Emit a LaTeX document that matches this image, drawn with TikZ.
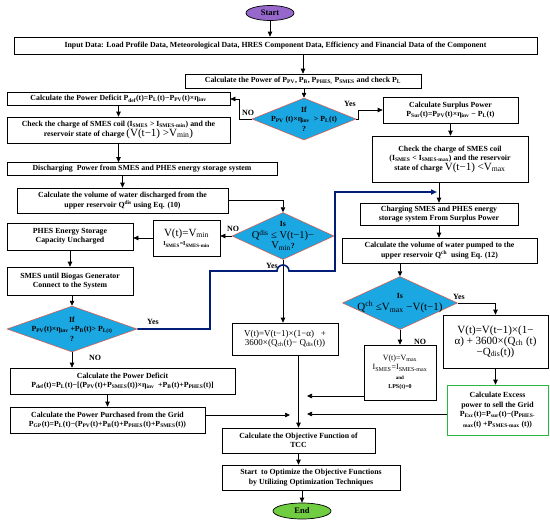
\documentclass[tikz,border=0pt]{standalone}
\usepackage{fontspec}
\setmainfont{Liberation Serif}
\usetikzlibrary{shapes.geometric,arrows.meta}
\definecolor{deccyan}{RGB}{27,167,226}
\definecolor{decred}{RGB}{232,84,62}
\definecolor{startpurple}{RGB}{150,104,204}
\definecolor{endgreen}{RGB}{112,204,64}
\definecolor{excgreen}{RGB}{40,184,64}
\definecolor{pathblue}{RGB}{0,30,120}
\newcommand{\bigtxt}{\fontsize{11}{12}\selectfont\mdseries}
\begin{document}
\begin{tikzpicture}[x=1pt,y=1pt,
    box/.style={draw,line width=0.7pt,align=center,inner sep=1pt,fill=white},
    dec/.style={diamond,draw=decred,line width=0.5pt,fill=deccyan,inner sep=0pt},
    term/.style={ellipse,draw,line width=0.7pt,inner sep=0pt,font=\fontsize{8.5}{10}\selectfont\bfseries},
    arr/.style={-{Triangle[length=5pt,width=4.5pt]},line width=0.7pt},
    bluepath/.style={draw=pathblue,line width=1.6pt,-{Triangle[length=6pt,width=5pt]}},
    yn/.style={inner sep=1pt,font=\fontsize{8}{9}\selectfont\bfseries}]
    \tikzstyle{every node}+=[font=\fontsize{7.8}{9.5}\selectfont\bfseries]
    \useasboundingbox (0,0) rectangle (550,-523);
    % main column
    \node[term,fill=startpurple,minimum width=48,minimum height=15] (start) at (270,-13) {Start};
    \node[box,minimum width=523,minimum height=17] (input) at (275.5,-45.5) {Input Data: Load Profile Data, Meteorological Data, HRES Component Data, Efficiency and Financial Data of the Component};
    \node[box,minimum width=236,minimum height=14] (calcpow) at (303,-81) {Calculate the Power of P\textsubscript{PV}, P\textsubscript{B}, P\textsubscript{PHES,} P\textsubscript{SMES} and check P\textsubscript{L}};
    \node[dec,minimum width=104,minimum height=42,label={[align=center]center:{If\\P\textsubscript{PV} (t)×η\textsubscript{inv} \ > P\textsubscript{L}(t)\\?}}] (dia1) at (304,-119) {};
    % left branch
    \node[box,minimum width=223,minimum height=13] (deficit) at (118.5,-99) {Calculate the Power Deficit P\textsubscript{def}(t)=P\textsubscript{L}(t)−P\textsubscript{PV}(t)×η\textsubscript{inv}};
    \node[box,minimum width=223,minimum height=26] (check1) at (118.5,-130) {Check the charge of SMES coil (I\textsubscript{SMES} > I\textsubscript{SMES-min}) and the\\reservoir state of charge {\bigtxt(V(t−1) >V\textsubscript{min})}};
    \node[box,minimum width=270,minimum height=13] (discharge) at (142,-169) {Discharging \ Power from SMES and PHES energy storage system};
    \node[box,minimum width=211,minimum height=25] (volume) at (122.5,-200.5) {Calculate the volume of water discharged from the\\upper reservoir Q\textsuperscript{dis} using Eq. (10)};
    \node[dec,minimum width=102,minimum height=47,label={[align=center]center:{Is\\[2.5pt]{\fontsize{10.5}{11}\selectfont\mdseries Q\textsuperscript{dis} ≤ V(t−1)−}\\{\fontsize{10.5}{11}\selectfont\mdseries V\textsubscript{min}}?}}] (diaQdis) at (283,-236) {};
    \node[box,minimum width=67,minimum height=36] (vmin) at (186.5,-238) {{\bigtxt V(t)=V\textsubscript{min}}\\{\fontsize{6}{7}\selectfont I\textsubscript{SMES}=I\textsubscript{SMES-min}}};
    \node[box,minimum width=126,minimum height=27] (phes) at (70,-236.5) {PHES Energy Storage\\Capacity Uncharged};
    \node[box,minimum width=126,minimum height=28] (smes) at (70,-281) {SMES until Biogas Generator\\Connect to the System};
    \node[dec,minimum width=130,minimum height=46,label={[align=center]center:{If\\P\textsubscript{PV}(t)×η\textsubscript{inv} +P\textsubscript{B}(t)> P\textsubscript{L(t)}\\?}}] (diaBio) at (72,-329) {};
    \node[box,minimum width=225,minimum height=26] (deficit2) at (122.5,-381) {Calculate the Power Deficit\\P\textsubscript{def}(t)=P\textsubscript{L}(t)−[(P\textsubscript{PV}(t)+P\textsubscript{SMES}(t))×η\textsubscript{inv} \ +P\textsubscript{B}(t)+P\textsubscript{PHES}(t)]};
    \node[box,minimum width=195,minimum height=26] (purchased) at (107.5,-420) {Calculate the Power Purchased from the Grid\\P\textsubscript{GP}(t)=P\textsubscript{L}(t)−(P\textsubscript{PV}(t)+P\textsubscript{B}(t)+P\textsubscript{PHES}(t)+P\textsubscript{SMES}(t))};
    \node[box,minimum width=106,minimum height=32] (vmid) at (285,-339) {\fontsize{9}{12}\selectfont\mdseries V(t)=V(t−1)×(1−α) \ \ +\\\fontsize{9}{12}\selectfont\mdseries 3600×(Q\textsubscript{ch}(t)− Q\textsubscript{dis}(t))};
    % right branch
    \node[box,minimum width=135,minimum height=26] (surplus) at (450.5,-110) {Calculate Surplus Power\\P\textsubscript{Sur}(t)=P\textsubscript{PV}(t)×η\textsubscript{inv} − P\textsubscript{L}(t)};
    \node[box,minimum width=156,minimum height=46] (check2) at (450,-159) {Check the charge of SMES coil\\(I\textsubscript{SMES} < I\textsubscript{SMES-max}) and the reservoir\\state of charge {\bigtxt V(t−1) <V\textsubscript{max}}};
    \node[box,minimum width=158,minimum height=22] (charging) at (439,-214) {Charging SMES and PHES energy\\storage system From Surplus Power};
    \node[box,minimum width=195,minimum height=25] (pumped) at (439.5,-250.5) {Calculate the volume of water pumped to the\\upper reservoir Q\textsuperscript{ch} \ using Eq. (12)};
    \node[dec,minimum width=115,minimum height=53,label={[align=center]center:{Is\\[2.5pt]{\bigtxt Q\textsuperscript{ch} ≤V\textsubscript{max} −V(t−1)}}}] (diaQch) at (400,-303) {};
    \node[box,minimum width=105,minimum height=53] (vnew) at (495.5,-341.5) {\bigtxt V(t)=V(t−1)×(1−\\\bigtxt α) + 3600×(Q\textsubscript{ch} (t)\\\bigtxt −Q\textsubscript{dis}(t))};
    \node[box,minimum width=72,minimum height=55] (vmax) at (400,-372.5) {{\fontsize{8}{9}\selectfont\mdseries V(t)=V\textsubscript{max}}\\{\fontsize{8}{9}\selectfont\mdseries I\textsubscript{SMES}=I\textsubscript{SMES-max}}\\{\fontsize{5}{6}\selectfont and}\\{\fontsize{6}{7}\selectfont LPS(t)=0}};
    \node[box,draw=excgreen,minimum width=101,minimum height=50] (excess) at (497.5,-410) {Calculate Excess\\power to sell the Grid\\P\textsubscript{Exc}(t)=P\textsubscript{sur}(t)−(P\textsubscript{PHES-}\\\textsubscript{max}(t) +P\textsubscript{SMES-max} (t))};
    % bottom
    \node[box,minimum width=153,minimum height=25] (tcc) at (298.5,-440.5) {Calculate the Objective Function of\\TCC};
    \node[box,minimum width=178,minimum height=25] (optimize) at (311,-477.5) {Start \ to Optimize the Objective Functions\\by Utilizing Optimization Techniques};
    \node[term,fill=endgreen,minimum width=58,minimum height=16] (end) at (302,-511) {End};
    % yes / no
    \node[yn] (no1) at (248,-113) {NO};
    \node[yn] (yes1) at (350,-104) {Yes};
    \node[yn] (no2) at (233,-229) {NO};
    \node[yn] (yes2) at (272,-266) {Yes};
    \node[yn] (yes3) at (153,-322) {Yes};
    \node[yn] (no3) at (95,-358) {NO};
    \node[yn] (yes4) at (459,-297) {Yes};
    \node[yn] (no4) at (420,-342) {NO};
    \coordinate (inL) at (290,-415);
    \coordinate (inR1) at (307,-396);
    \coordinate (inR2) at (307,-414);
    \coordinate (bA) at (210,-271);
    \coordinate (bB) at (335,-192);
    \coordinate (bEnd) at (437,-192);
    \coordinate (hop) at (277,-271);
    % connectors
    \draw[arr] (start.south) -- (start.south |- input.north);
    \draw[arr] (input.south -| calcpow.north) -- (calcpow.north);
    \draw[arr] (calcpow.south -| dia1.north) -- (dia1.north);
    \draw[arr] (dia1.west) -- ++(-12,0) |- (deficit.east);
    \draw[arr] (dia1.east) -- ++(2,0) |- (surplus.west);
    \draw[arr] (deficit.south) -- (check1.north);
    \draw[arr] (check1.south) -- (check1.south |- discharge.north);
    \draw[arr] (discharge.south -| volume.north) -- (volume.north);
    \draw[arr] (volume.east) -| (diaQdis.north);
    \draw[arr] (diaQdis.west) -- (diaQdis.west -| vmin.east);
    \draw[arr] (vmin.west) -- (vmin.west -| phes.east);
    \draw[arr] (phes.south) -- (smes.north);
    \draw[arr] (smes.south -| diaBio.north) -- (diaBio.north);
    \draw[arr] (diaBio.south) -- (diaBio.south |- deficit2.north);
    \draw[arr] (deficit2.south -| purchased.north) -- (purchased.north);
    \draw[arr] (surplus.south) -- (surplus.south |- check2.north);
    \draw[arr] (check2.south -| charging.north) -- (charging.north);
    \draw[arr] (charging.south) -- (charging.south |- pumped.north);
    \draw[arr] (pumped.south -| diaQch.north) -- (diaQch.north);
    \draw[arr] (diaQch.east) -| (vnew.north);
    \draw[arr] (diaQch.south) -- (vmax.north);
    \draw[arr] (vnew.south) -- (vnew.south |- excess.north);
    \draw[arr] (diaQdis.south) -- (diaQdis.south |- vmid.north);
    \draw[arr] (vmid.south -| tcc.north) -- (tcc.north);
    \draw[arr] (purchased.east |- inL) -- (inL);
    \draw[arr] (vmax.west |- inR1) -- (inR1);
    \draw[arr] (excess.west |- inR2) -- (inR2);
    \draw[arr] (tcc.south) -- (tcc.south |- optimize.north);
    \draw[arr] (optimize.south -| end.north) -- (end.north);
    % biogas yes path
    \draw[bluepath] (diaBio.east) -| (bA) -- (hop) arc[start angle=180,end angle=0,radius=6] -- (bA -| bB) -- (bB) -- (bEnd);
\end{tikzpicture}
\end{document}
